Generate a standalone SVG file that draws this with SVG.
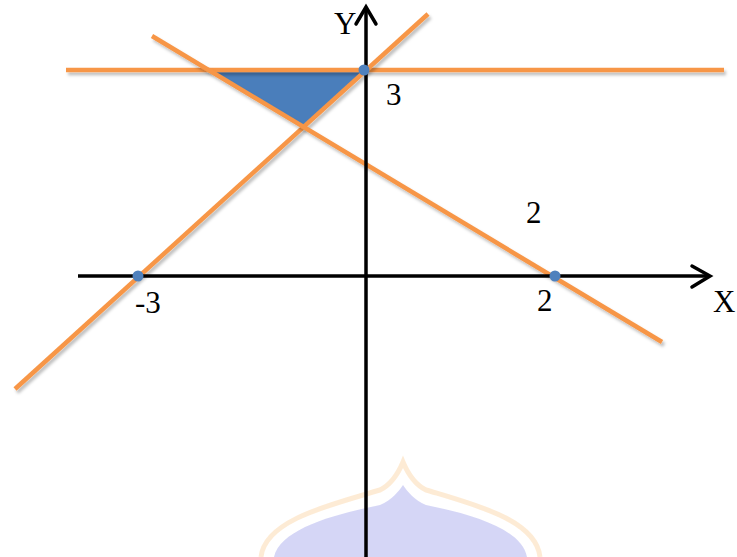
<svg xmlns="http://www.w3.org/2000/svg" width="737" height="557" viewBox="0 0 737 557">
<style>
.ln{stroke:#f79646;stroke-width:4.5;fill:none;stroke-linecap:butt}
.ax{stroke:#000;stroke-width:3.5;fill:none}
.hd{stroke:#000;stroke-width:3.5;fill:none;stroke-linecap:round;stroke-linejoin:miter}
.pt{fill:#4f81bd}
.lb{font-family:"Liberation Serif","Times New Roman",serif;font-size:31px;fill:#000}
</style>
<defs>
<filter id="sh" filterUnits="userSpaceOnUse" x="0" y="0" width="737" height="557">
<feDropShadow dx="2" dy="3" stdDeviation="1.5" flood-color="#000" flood-opacity="0.25"/>
</filter>
</defs>
<rect width="737" height="557" fill="#fff"/>
<g id="watermark" opacity="0.55">
<path d="M261,557 C265,520 330,505 380,490 C392,484 398,474 403,462 C408,474 414,484 426,490 C476,505 536,520 540,557" fill="none" stroke="#fcdcb4" stroke-width="5"/>
<path d="M274,557 C280,530 330,515 380,505 C392,500 398,492 403,485 C408,492 414,500 426,505 C476,515 522,530 527,557 Z" fill="#b4b6ef"/>
</g>
<g id="region">
<polygon points="208.7,70 366,70 303.6,127" fill="#4a7ebb"/>
</g>
<g id="connectors">
<line class="ln" x1="66" y1="70" x2="724" y2="70" filter="url(#sh)"/>
<line class="ln" x1="15" y1="389" x2="428" y2="14" filter="url(#sh)"/>
<line class="ln" x1="152" y1="36" x2="662" y2="342" filter="url(#sh)"/>
</g>
<g id="x-axis">
<line class="ax" x1="78" y1="276" x2="710" y2="276"/>
<polyline class="hd" points="692,266 710,276 692,287"/>
</g>
<g id="y-axis">
<line class="ax" x1="366" y1="557" x2="366" y2="7"/>
<polyline class="hd" points="356,24 366,7 376,24"/>
</g>
<g id="points">
<circle class="pt" cx="364" cy="70" r="5.5"/>
<circle class="pt" cx="138" cy="276" r="5.5"/>
<circle class="pt" cx="555" cy="276" r="5.5"/>
</g>
<g id="labels">
<text class="lb" x="334" y="34">Y</text>
<text class="lb" x="713" y="312">X</text>
<text class="lb" x="386" y="105">3</text>
<text class="lb" x="135" y="313">-3</text>
<text class="lb" x="526" y="223">2</text>
<text class="lb" x="537" y="311">2</text>
</g>
</svg>
